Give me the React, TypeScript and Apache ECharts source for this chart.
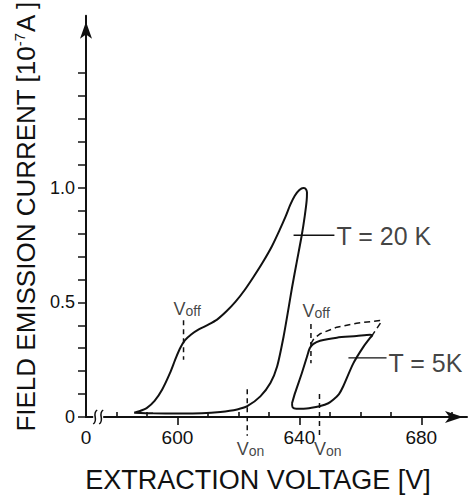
import React, { useEffect, useRef } from "react";
import * as echarts from "echarts";

const FONT = "'Liberation Sans', Arial, Helvetica, sans-serif";

// T = 20 K hysteresis loop: [voltage V, current 1e-7 A]
const loop20K: [number, number][] = [
  [585.8, 0.019], [592, 0.016], [600, 0.015], [608, 0.016], [614.1, 0.022],
  [619.6, 0.033], [622.9, 0.047], [627.2, 0.09], [630.5, 0.148], [632.7, 0.22],
  [634.8, 0.349], [636.5, 0.478], [637.6, 0.565], [639.2, 0.68], [640.8, 0.794],
  [641.8, 0.88], [642.4, 0.945], [642.5, 0.98], [642.0, 0.996], [641.3, 0.999],
  [640.0, 0.99], [638.5, 0.965], [637.0, 0.925], [635.5, 0.875], [633.5, 0.815],
  [631.0, 0.745], [628.0, 0.675], [625.0, 0.612], [622.0, 0.553], [619.0, 0.502],
  [616.0, 0.46], [613.0, 0.425], [610.0, 0.402], [607.0, 0.382], [604.5, 0.36],
  [602.5, 0.335], [601.0, 0.303], [599.5, 0.258], [597.5, 0.19], [595.0, 0.12],
  [592.5, 0.07], [590.0, 0.04], [587.5, 0.025], [585.8, 0.019],
];

// T = 5 K loop (solid)
const loop5K: [number, number][] = [
  [637.6, 0.06], [637.8, 0.042], [639.0, 0.036], [641.4, 0.036], [644.0, 0.04],
  [646.6, 0.047], [649.5, 0.06], [651.2, 0.076], [653.0, 0.1], [654.4, 0.134],
  [657.7, 0.234], [661.0, 0.306], [663.2, 0.345], [663.9, 0.356], [663.2, 0.359],
  [658.8, 0.353], [652.3, 0.346], [646.8, 0.333], [644.5, 0.318], [643.4, 0.3],
  [642.5, 0.263], [640.8, 0.191], [638.6, 0.105], [637.6, 0.06],
];

// T = 5 K upper (dashed) branch
const loop5KDashed: [number, number][] = [
  [643.7, 0.318], [644.8, 0.342], [646.8, 0.363], [652.3, 0.392], [658.8, 0.409],
  [666.4, 0.421], [667.0, 0.418], [663.9, 0.356],
];

// dashed marker lines (Voff / Von)
const voff20K: [number, number][] = [[602.0, 0.422], [602.0, 0.25]];
const voff5K: [number, number][] = [[643.8, 0.406], [643.8, 0.234]];
const von20K: [number, number][] = [[622.9, 0.121], [622.9, -0.082]];
const von5K: [number, number][] = [[646.6, 0.1], [646.6, -0.082]];

// leader lines to the temperature labels
const leader20K: [number, number][] = [[638.1, 0.793], [651.5, 0.793]];
const leader5K: [number, number][] = [[656.1, 0.258], [668.6, 0.258]];

// axis ticks / labels
const xLabelValues = [570, 600, 640, 680];
const xMajorTicks = [600, 640, 680];
const xMinorTicks = [580, 590, 610, 620, 630, 650, 660, 670, 690];
const yTickValues = [0, 0.1, 0.2, 0.3, 0.4, 0.5, 0.6, 0.7, 0.8, 0.9, 1.0, 1.1, 1.2, 1.3, 1.4, 1.5];
const yLabelValues = [0, 0.5, 1.0];

// text annotations: [V, I] of label centre
const subLabels = [
  { value: [603.2, 0.47], main: "V", sub: "off" },
  { value: [645.5, 0.461], main: "V", sub: "off" },
  { value: [624.0, -0.14], main: "V", sub: "on" },
  { value: [649.3, -0.14], main: "V", sub: "on" },
];
const tempLabels = [
  { value: leader20K[1], text: "T = 20 K", dy: 1 },
  { value: leader5K[1], text: "T = 5K", dy: 5 },
];

const BLACK = "#111";

export default function App() {
  const ref = useRef<HTMLDivElement>(null);
  useEffect(() => {
    if (!ref.current) return;
    const chart = echarts.init(ref.current, null, { renderer: "svg" });
    const solid = (data: [number, number][], name: string) => ({
      type: "line",
      name,
      data,
      showSymbol: false,
      symbol: "none",
      smooth: 0.25,
      clip: false,
      lineStyle: { color: BLACK, width: 2 },
      silent: true,
    });
    const dashed = (data: [number, number][], name: string, dash: number[]) => ({
      type: "line",
      name,
      data,
      symbol: "none",
      clip: false,
      lineStyle: { color: BLACK, width: 1.5, type: dash },
      silent: true,
    });
    const thin = (data: [number, number][], name: string) => ({
      type: "line",
      name,
      data,
      symbol: "none",
      clip: false,
      lineStyle: { color: BLACK, width: 1.3 },
      silent: true,
    });

    chart.setOption({
      animation: false,
      backgroundColor: "#fff",
      textStyle: { fontFamily: FONT, color: BLACK },
      grid: { left: 86, right: 5, top: 15, bottom: 77, containLabel: false },
      xAxis: [
        {
          type: "value",
          min: 570,
          max: 695,
          interval: 10,
          splitLine: { show: false },
          axisLine: {
            show: true,
            onZero: false,
            lineStyle: { color: BLACK, width: 2 },
            symbol: ["none", "arrow"],
            symbolSize: [9, 18],
            symbolOffset: [0, -4],
          },
          axisTick: {
            show: true,
            inside: false,
            length: 8,
            lineStyle: { color: BLACK, width: 1.6 },
            customValues: xMajorTicks,
          },
          axisLabel: {
            show: true,
            customValues: xLabelValues,
            margin: 11,
            fontSize: 19,
            fontFamily: FONT,
            color: BLACK,
            formatter: (v: number) => (v === 570 ? "0" : String(v)),
          },
          name: "EXTRACTION VOLTAGE [V]",
          nameLocation: "middle",
          nameGap: 49,
          nameTextStyle: {
            fontSize: 27,
            fontFamily: FONT,
            color: BLACK,
            padding: [0, 37, 0, 0],
          },
        },
        {
          type: "value",
          min: 570,
          max: 695,
          interval: 10,
          position: "bottom",
          splitLine: { show: false },
          axisLine: { show: false },
          axisLabel: { show: false },
          axisTick: {
            show: true,
            inside: true,
            length: 5,
            lineStyle: { color: BLACK, width: 1.6 },
            customValues: xMinorTicks,
          },
        },
      ],
      yAxis: {
        type: "value",
        min: 0,
        max: 1.75,
        interval: 0.25,
        splitLine: { show: false },
        axisLine: {
          show: true,
          onZero: false,
          lineStyle: { color: BLACK, width: 2 },
          symbol: ["none", "arrow"],
          symbolSize: [9, 17],
          symbolOffset: [0, -6],
        },
        axisTick: {
          show: true,
          inside: false,
          length: 8,
          lineStyle: { color: BLACK, width: 1.5 },
          customValues: yTickValues,
        },
        axisLabel: {
          show: true,
          customValues: yLabelValues,
          margin: 11,
          fontSize: 18,
          fontFamily: FONT,
          color: BLACK,
          formatter: (v: number) => (v === 0 ? "0" : v.toFixed(1)),
        },
        name: "FIELD EMISSION CURRENT [10{sup|-7}A ]",
        nameLocation: "middle",
        nameGap: 47,
        nameTextStyle: {
          fontSize: 26,
          fontFamily: FONT,
          color: BLACK,
          rich: {
            sup: { fontSize: 15, fontFamily: FONT, color: BLACK, verticalAlign: "top", padding: [0, 0, 12, 0] },
          },
        },
      },
      series: [
        solid(loop20K, "T = 20 K"),
        solid(loop5K, "T = 5 K"),
        dashed(loop5KDashed, "T = 5 K (dashed)", [6, 4]),
        dashed(voff20K, "Voff 20K", [5, 4]),
        dashed(voff5K, "Voff 5K", [5, 4]),
        dashed(von20K, "Von 20K", [5, 4]),
        dashed(von5K, "Von 5K", [5, 4]),
        thin(leader20K, "leader 20K"),
        thin(leader5K, "leader 5K"),
        {
          type: "scatter",
          name: "V labels",
          clip: false,
          symbolSize: 0,
          silent: true,
          itemStyle: { color: "transparent" },
          data: subLabels.map((d) => ({
            value: d.value,
            label: {
              show: true,
              position: "inside",
              formatter: `{v|${d.main}}{s|${d.sub}}`,
              rich: {
                v: { fontSize: 18, fontFamily: FONT, color: BLACK, verticalAlign: "top", lineHeight: 18 },
                s: { fontSize: 14, fontFamily: FONT, color: BLACK, verticalAlign: "bottom", lineHeight: 14, padding: [9, 0, 0, 0] },
              },
            },
          })),
        },
        {
          type: "scatter",
          name: "T labels",
          clip: false,
          symbolSize: 0,
          silent: true,
          itemStyle: { color: "transparent" },
          data: tempLabels.map((d) => ({
            value: d.value,
            label: {
              show: true,
              position: "right",
              distance: 2,
              offset: [0, d.dy],
              formatter: d.text,
              fontSize: 25,
              fontFamily: FONT,
              color: BLACK,
            },
          })),
        },
      ],
    });

    // axis break mark on the x axis
    const p = chart.convertToPixel({ xAxisIndex: 0, yAxisIndex: 0 }, [574, 0]) as number[];
    if (p) {
      const bx = p[0];
      const by = p[1];
      const squiggle = (cx: number) => ({
        type: "bezierCurve",
        shape: {
          x1: cx - 2, y1: by + 7,
          cpx1: cx + 4, cpy1: by + 3,
          cpx2: cx - 4, cpy2: by - 3,
          x2: cx + 2, y2: by - 7,
        },
        style: { stroke: BLACK, lineWidth: 1.5, fill: null },
        silent: true,
      });
      chart.setOption({
        graphic: [
          { type: "rect", shape: { x: bx - 5, y: by - 3, width: 10, height: 6 }, style: { fill: "#fff" }, silent: true, z: 100 },
          { ...squiggle(bx - 3), z: 101 },
          { ...squiggle(bx + 3), z: 101 },
        ],
      });
    }

    return () => chart.dispose();
  }, []);

  return (
    <div
      ref={ref}
      style={{ position: "absolute", left: 0, top: 0, width: 472, height: 498, background: "#fff" }}
    />
  );
}
